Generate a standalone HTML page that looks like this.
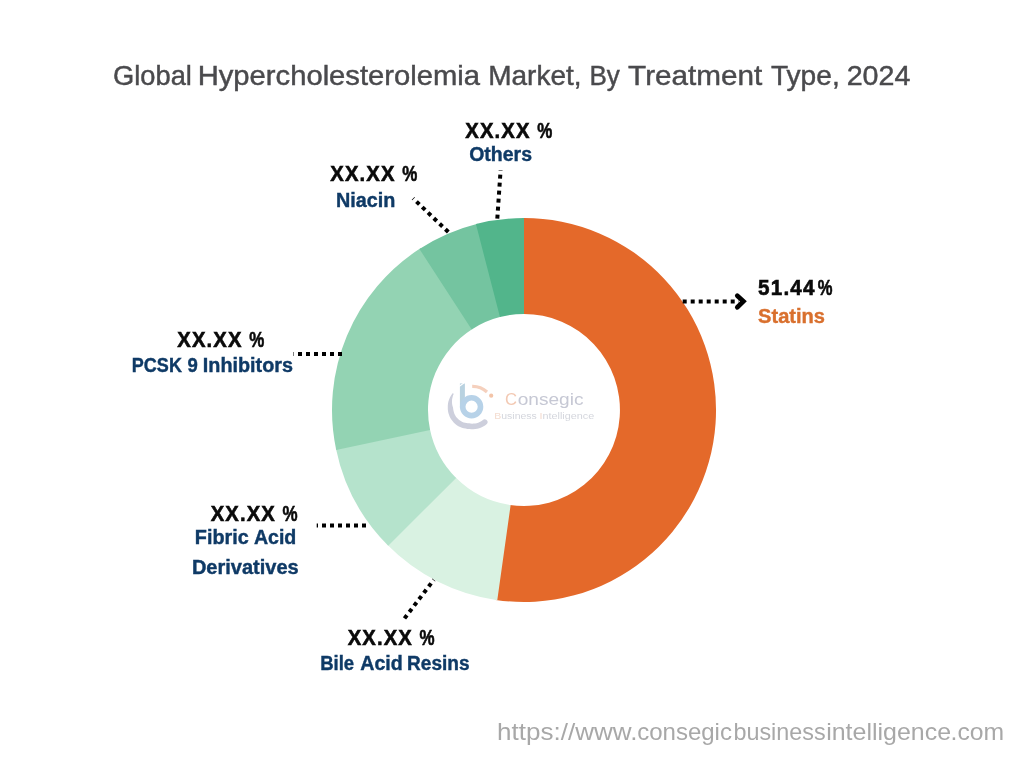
<!DOCTYPE html>
<html lang="en">
<head>
<meta charset="utf-8">
<title>Global Hypercholesterolemia Market, By Treatment Type, 2024</title>
<style>
html,body{margin:0;padding:0;background:#fff;}
body{width:1024px;height:768px;overflow:hidden;}
svg{display:block;font-family:"Liberation Sans",sans-serif;}
</style>
</head>
<body>
<svg width="1024" height="768" viewBox="0 0 1024 768">
<rect width="1024" height="768" fill="#ffffff"/>
<path d="M522.32 218.01A192 192 0 1 1 495.62 599.89L509.81 504.95A96 96 0 1 0 523.16 314.00Z" fill="#e4692a"/>
<path d="M497.28 600.13A192 192 0 0 1 387.06 544.57L455.53 477.29A96 96 0 0 0 510.64 505.07Z" fill="#d9f2e2"/>
<path d="M388.24 545.76A192 192 0 0 1 335.85 448.28L429.93 429.14A96 96 0 0 0 456.12 477.88Z" fill="#b5e3cc"/>
<path d="M336.20 449.92A192 192 0 0 1 420.84 248.07L472.42 329.03A96 96 0 0 0 430.10 429.96Z" fill="#93d3b3"/>
<path d="M419.43 248.98A192 192 0 0 1 477.55 223.70L500.78 316.85A96 96 0 0 0 471.71 329.49Z" fill="#74c4a0"/>
<path d="M475.93 224.12A192 192 0 0 1 524.00 218.00L524.00 314.00A96 96 0 0 0 499.96 317.06Z" fill="#52b58b"/>

<g stroke="#000" stroke-width="4" stroke-dasharray="4 4" fill="none">
<line x1="497.3" y1="218.6" x2="500.6" y2="170.2"/>
<line x1="448.3" y1="232" x2="413.1" y2="198.4"/>
<line x1="342" y1="353.9" x2="293.5" y2="353.9"/>
<line x1="366" y1="525.5" x2="316.7" y2="525.5"/>
<line x1="404.5" y1="618.4" x2="433.8" y2="579.8"/>
<line x1="682.7" y1="301.4" x2="739" y2="301.4"/>
</g>
<polyline points="737.3,295.7 743.4,301.4 737.3,307.3" fill="none" stroke="#000" stroke-width="4.7" stroke-linecap="round" stroke-linejoin="miter"/>

<text y="85.1" font-size="28" fill="#4a4a4d" stroke="#4a4a4d" stroke-width="0.45"><tspan x="113.05" textLength="78.84" lengthAdjust="spacingAndGlyphs">Global</tspan> <tspan x="197.7" textLength="282.36" lengthAdjust="spacingAndGlyphs">Hypercholesterolemia</tspan> <tspan x="488.2" textLength="93.31" lengthAdjust="spacingAndGlyphs">Market,</tspan> <tspan x="589.5" textLength="30.39" lengthAdjust="spacingAndGlyphs">By</tspan> <tspan x="628.1" textLength="134.2" lengthAdjust="spacingAndGlyphs">Treatment</tspan> <tspan x="770.95" textLength="68.75" lengthAdjust="spacingAndGlyphs">Type,</tspan> <tspan x="846.7" textLength="63.7" lengthAdjust="spacingAndGlyphs">2024</tspan></text>
<text y="137.9" font-size="21.6" font-weight="bold" fill="#0a0a0a" stroke="#0a0a0a" stroke-width="0.6"><tspan x="465.25" textLength="65.31" lengthAdjust="spacingAndGlyphs" letter-spacing="1.2">XX.XX</tspan> <tspan x="537.35" textLength="15.06" lengthAdjust="spacingAndGlyphs">%</tspan></text>
<text y="161.2" font-size="20" font-weight="bold" fill="#0f3a66" stroke="#0f3a66" stroke-width="0.4"><tspan x="469.2" textLength="62.78" lengthAdjust="spacingAndGlyphs">Others</tspan></text>
<text y="181.2" font-size="21.6" font-weight="bold" fill="#0a0a0a" stroke="#0a0a0a" stroke-width="0.6"><tspan x="330.25" textLength="65.31" lengthAdjust="spacingAndGlyphs" letter-spacing="1.2">XX.XX</tspan> <tspan x="402.35" textLength="15.06" lengthAdjust="spacingAndGlyphs">%</tspan></text>
<text y="206.8" font-size="20" font-weight="bold" fill="#0f3a66" stroke="#0f3a66" stroke-width="0.4"><tspan x="335.9" textLength="59.39" lengthAdjust="spacingAndGlyphs">Niacin</tspan></text>
<text y="347" font-size="21.6" font-weight="bold" fill="#0a0a0a" stroke="#0a0a0a" stroke-width="0.6"><tspan x="177.25" textLength="65.31" lengthAdjust="spacingAndGlyphs" letter-spacing="1.2">XX.XX</tspan> <tspan x="249.35" textLength="15.06" lengthAdjust="spacingAndGlyphs">%</tspan></text>
<text y="371.6" font-size="20" font-weight="bold" fill="#0f3a66" stroke="#0f3a66" stroke-width="0.4"><tspan x="131.85" textLength="50.06" lengthAdjust="spacingAndGlyphs">PCSK</tspan> <tspan x="187.5" textLength="10.32" lengthAdjust="spacingAndGlyphs">9</tspan> <tspan x="202.85" textLength="90.13" lengthAdjust="spacingAndGlyphs">Inhibitors</tspan></text>
<text y="520.6" font-size="21.6" font-weight="bold" fill="#0a0a0a" stroke="#0a0a0a" stroke-width="0.6"><tspan x="210.7" textLength="65.3" lengthAdjust="spacingAndGlyphs" letter-spacing="1.2">XX.XX</tspan> <tspan x="282.55" textLength="15.06" lengthAdjust="spacingAndGlyphs">%</tspan></text>
<text y="544.3" font-size="19.3" font-weight="bold" fill="#0f3a66" stroke="#0f3a66" stroke-width="0.4"><tspan x="194.85" textLength="53.89" lengthAdjust="spacingAndGlyphs">Fibric</tspan> <tspan x="253.9" textLength="42.44" lengthAdjust="spacingAndGlyphs">Acid</tspan></text>
<text y="573.7" font-size="19.3" font-weight="bold" fill="#0f3a66" stroke="#0f3a66" stroke-width="0.4"><tspan x="191.9" textLength="106.78" lengthAdjust="spacingAndGlyphs">Derivatives</tspan></text>
<text y="645.4" font-size="21.6" font-weight="bold" fill="#0a0a0a" stroke="#0a0a0a" stroke-width="0.6"><tspan x="347.7" textLength="65.3" lengthAdjust="spacingAndGlyphs" letter-spacing="1.2">XX.XX</tspan> <tspan x="419.55" textLength="15.06" lengthAdjust="spacingAndGlyphs">%</tspan></text>
<text y="670.3" font-size="20" font-weight="bold" fill="#0f3a66" stroke="#0f3a66" stroke-width="0.4"><tspan x="320.15" textLength="33.96" lengthAdjust="spacingAndGlyphs">Bile</tspan> <tspan x="360.25" textLength="42.44" lengthAdjust="spacingAndGlyphs">Acid</tspan> <tspan x="407" textLength="62.54" lengthAdjust="spacingAndGlyphs">Resins</tspan></text>
<text y="295" font-size="21.6" font-weight="bold" fill="#0a0a0a" stroke="#0a0a0a" stroke-width="0.6"><tspan x="758.1" textLength="57.48" lengthAdjust="spacingAndGlyphs" letter-spacing="1.2">51.44</tspan><tspan x="817.75" textLength="14.72" lengthAdjust="spacingAndGlyphs">%</tspan></text>
<text y="322.5" font-size="20" font-weight="bold" fill="#d9702e" stroke="#d9702e" stroke-width="0.4"><tspan x="758.1" textLength="66.91" lengthAdjust="spacingAndGlyphs">Statins</tspan></text>
<text y="739.8" font-size="23.8" fill="#a8a8a8"><tspan x="497.05" textLength="140.37" lengthAdjust="spacingAndGlyphs">https://www.</tspan><tspan x="637.15" textLength="94.83" lengthAdjust="spacingAndGlyphs">consegic</tspan><tspan x="733.45" textLength="92.21" lengthAdjust="spacingAndGlyphs">business</tspan><tspan x="826.2" textLength="124.86" lengthAdjust="spacingAndGlyphs">intelligence</tspan><tspan x="950.6" textLength="53.59" lengthAdjust="spacingAndGlyphs">.com</tspan></text>
<text y="404.5" font-size="17.2" fill="#c6c8d4"><tspan x="505.1" textLength="12.06" lengthAdjust="spacingAndGlyphs" fill="#f3c9b3">C</tspan><tspan x="517.75" textLength="65.77" lengthAdjust="spacingAndGlyphs">onsegic</tspan></text>
<text y="418.6" font-size="9.6" fill="#d4d6dd"><tspan x="494.3" textLength="42.49" lengthAdjust="spacingAndGlyphs"><tspan fill="#f4dccf">B</tspan>usiness</tspan> <tspan x="539.5" textLength="54.74" lengthAdjust="spacingAndGlyphs"><tspan fill="#f4dccf">I</tspan>ntelligence</tspan></text>

<g fill="none">
<path d="M452.9 393.0L451.7 394.6L450.6 396.2L449.7 398.0L449.0 399.8L448.4 401.6L448.0 403.5L447.8 405.4L447.8 407.3L447.8 409.2L448.0 411.1L448.4 412.9L449.0 414.8L449.6 416.5L450.5 418.2L451.5 419.8L452.7 421.3L453.9 422.7L455.3 424.0L456.8 425.2L458.4 426.2L460.1 427.0L461.9 427.7L463.7 428.3L465.6 428.6L467.4 428.9L469.3 429.0L471.3 429.2L473.3 429.2L475.3 429.1L477.3 428.7L479.3 428.2L481.2 427.4L483.2 426.5L485.0 425.4L486.8 424.1A2.8 2.8 0 0 0 482.6 420.3L481.2 421.3L479.7 422.1L478.2 422.7L476.7 423.2L475.1 423.5L473.6 423.6L472.1 423.7L470.6 423.6L469.2 423.3L467.8 423.2L466.4 423.0L465.1 422.8L463.7 422.4L462.4 421.9L461.2 421.3L460.0 420.6L458.9 419.7L457.9 418.8L456.9 417.8L456.0 416.7L455.3 415.5L454.6 414.3L454.1 413.0L453.7 411.6L453.4 410.3L453.2 408.9L453.0 407.5L452.5 406.0L452.2 404.4L452.0 402.7L452.0 401.0L452.1 399.2L452.5 397.4L453.0 395.6L453.7 393.9Z" fill="#cdcfdc"/>
<path d="M472.2 386.3A21 21 0 0 1 487 392" stroke="#f5d0bd" stroke-width="3.2"/>
<circle cx="491.2" cy="395.7" r="2.1" fill="#f3c4a8"/>
<path d="M462.4 383.4V408" stroke="#b9d2e0" stroke-width="5"/>
<circle cx="471.6" cy="406.7" r="8.9" stroke="#b7d2e8" stroke-width="5.6"/>
<path d="M459 386.5L466 381.5" stroke="#ffffff" stroke-width="1.2"/>
</g>

</svg>
</body>
</html>
